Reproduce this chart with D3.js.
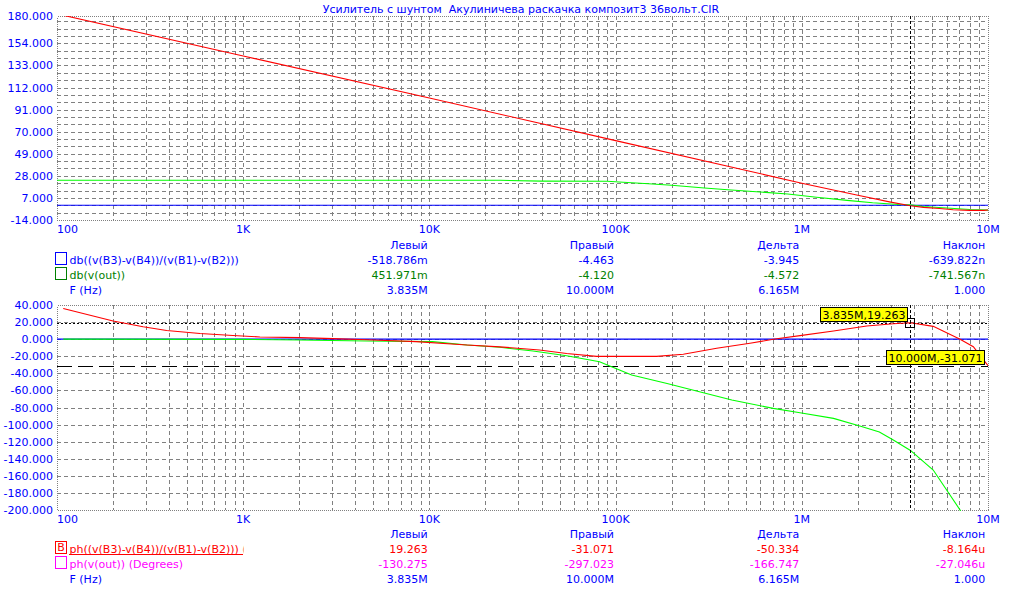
<!DOCTYPE html>
<html><head><meta charset="utf-8">
<script src="https://cdn.jsdelivr.net/npm/d3@7"></script>
<style>
html,body{margin:0;padding:0;background:#fff;}
svg{display:block;font-family:"DejaVu Sans",sans-serif;font-size:11px;}
text{white-space:pre;}
</style></head>
<body>
<svg id="c" width="1020" height="592"></svg>
<script>
// ---------- data ----------
const title = "Усилитель с шунтом  Акулиничева раскачка композит3 36вольт.CIR";
const xTickValues = [1e2, 1e3, 1e4, 1e5, 1e6, 1e7];
const xTickLabels = ["100", "1K", "10K", "100K", "1M", "10M"];
const topTickValues = [-14, 7, 28, 49, 70, 91, 112, 133, 154, 180];
const botTickValues = [40, 20, 0, -20, -40, -60, -80, -100, -120, -140, -160, -180, -200];

// top plot: magnitude (dB)
const magRedF = [100, 1e3, 1e4, 1e5, 1e6, 2e6, 3e6, 3.835e6, 4.5e6, 5.5e6, 6.5e6, 8e6, 9.5e6, 1e7];
const magRedV = [182, 142, 102, 61.5, 21, 9.5, 3, -0.52, -2, -3, -4.2, -4.8, -4.8, -4.46];
const magGreenF = [100, 2.4e4, 4e4, 9e4, 1.1e5, 1.5e5, 2e5, 3e5, 4e5, 5.7e5, 8.4e5, 1.2e6, 1.75e6, 2.4e6, 3.3e6, 3.835e6, 4.5e6, 6e6, 8e6, 1e7];
const magGreenV = [23.75, 23.75, 23, 22.8, 21.9, 20.5, 19, 16.4, 14.8, 12.9, 10.7, 7.6, 4.7, 2.4, 0.8, 0.45, -1.2, -2.6, -4, -4.6];
const magBlueF = [100, 1e7];
const magBlueV = [0, 0];

// bottom plot: phase (degrees)
const phRedF = [108, 200, 290, 388, 586, 881, 1230, 2020, 3030, 4600, 8500, 15900, 23900, 39000, 54600, 79000, 166000, 231000, 349000, 527000, 703000, 978000, 1.48e6, 2.23e6, 3.1e6, 3.835e6, 5.08e6, 7.08e6, 8.34e6, 1e7];
const phRedV = [36, 21.3, 14.6, 10.2, 6.6, 4.3, 2.6, 1.8, 0.6, -0.6, -2.9, -6.8, -9.0, -12.7, -16.7, -20.1, -20.1, -17.7, -10.7, -4.8, -0.1, 4.1, 9.6, 15.4, 18.1, 19.263, 15.0, -0.1, -8.9, -31.071];
const phGreenF = [108, 1e3, 2e3, 3e3, 4600, 10400, 15900, 23900, 36000, 54600, 82000, 93000, 122000, 189000, 282000, 421000, 703000, 978000, 1.48e6, 2.05e6, 2.61e6, 3.1e6, 3.835e6, 5.08e6, 7.08e6, 1e7];
const phGreenV = [0, -0.3, -1, -1.5, -2.1, -2.9, -6.8, -9.5, -13.9, -19.4, -26.4, -31.4, -42, -51.9, -61.5, -71.2, -81, -86.1, -92.7, -101.7, -108.7, -118.1, -130.275, -153.2, -200, -297.023];
const phBlueF = [100, 1e7];
const phBlueV = [0, 0];

// cursors
const cursorF = [3.835e6, 1e7];
const phCursorV = [19.263, -31.071];
const cursorLabels = ["3.835M,19.263", "10.000M,-31.071"];

// tables
const tableHeaders = ["Левый", "Правый", "Дельта", "Наклон"];
const topRowNames = ["db((v(B3)-v(B4))/(v(B1)-v(B2)))", "db(v(out))", "F (Hz)"];
const topRowValues = [
  ["-518.786m", "-4.463", "-3.945", "-639.822n"],
  ["451.971m", "-4.120", "-4.572", "-741.567n"],
  ["3.835M", "10.000M", "6.165M", "1.000"]
];
const botRowNames = ["ph((v(B3)-v(B4))/(v(B1)-v(B2))) (Degrees)", "ph(v(out)) (Degrees)", "F (Hz)"];
const botRowValues = [
  ["19.263", "-31.071", "-50.334", "-8.164u"],
  ["-130.275", "-297.023", "-166.747", "-27.046u"],
  ["3.835M", "10.000M", "6.165M", "1.000"]
];

// ---------- drawing ----------
const svg = d3.select("#c");
const BLUE = "#0000ff", RED = "#ff0000", GREEN = "#00ff00", DKGREEN = "#008000", MAG = "#ff00ff", GRID = "#808080";
const X0 = 57, X1 = 988;
const x = d3.scaleLog().domain([100, 1e7]).range([X0, X1]);
const yTop = d3.scaleLinear().domain([-14, 180]).range([220, 16]);
const yBot = d3.scaleLinear().domain([-200, 40]).range([510, 305]);

svg.append("text").attr("x", 521).attr("y", 12.5).attr("text-anchor", "middle")
  .attr("fill", BLUE).text(title);

const defs = svg.append("defs");
function clip(id, y) {
  const r = y.range();
  defs.append("clipPath").attr("id", id).append("rect")
    .attr("x", X0).attr("y", r[1]).attr("width", X1 - X0 + 1).attr("height", r[0] - r[1] + 1);
}
clip("clipTop", yTop); clip("clipBot", yBot);
defs.append("clipPath").attr("id", "clipName").append("rect")
  .attr("x", 60).attr("y", 530).attr("width", 183.5).attr("height", 40);

// minor x grid values: k*10^n
const xGrid = [];
for (let e = 2; e < 7; e++) for (let k = 1; k < 10; k++) xGrid.push(k * Math.pow(10, e));

function panel(y, hGrid, yTicks, labelBaseline) {
  const g = svg.append("g");
  const r = y.range();
  g.selectAll(".vg").data(xGrid.filter(v => v > 100)).enter().append("line")
    .attr("x1", d => Math.round(x(d)) + 0.5).attr("x2", d => Math.round(x(d)) + 0.5)
    .attr("y1", r[1]).attr("y2", r[0])
    .attr("stroke", GRID).attr("stroke-dasharray", "4,3").attr("shape-rendering", "crispEdges");
  g.selectAll(".hg").data(hGrid).enter().append("line")
    .attr("x1", X0).attr("x2", X1)
    .attr("y1", d => Math.round(y(d)) + 0.5).attr("y2", d => Math.round(y(d)) + 0.5)
    .attr("stroke", GRID).attr("stroke-dasharray", "4,3").attr("shape-rendering", "crispEdges");
  g.append("rect").attr("x", X0 + 0.5).attr("y", r[1] + 0.5).attr("width", X1 - X0).attr("height", r[0] - r[1])
    .attr("fill", "none").attr("stroke", GRID).attr("stroke-dasharray", "1,1").attr("shape-rendering", "crispEdges");
  g.selectAll(".yl").data(yTicks).enter().append("text")
    .attr("x", 53).attr("y", d => y(d) + 4).attr("text-anchor", "end").attr("fill", BLUE)
    .text(d => d.toFixed(3));
  g.selectAll(".xl").data(xTickValues).enter().append("text")
    .attr("x", (d, i) => i === 0 ? X0 : x(d))
    .attr("y", labelBaseline)
    .attr("text-anchor", (d, i) => i === 0 ? "start" : "middle")
    .attr("fill", BLUE).text((d, i) => xTickLabels[i]);
  return g;
}

function series(g, F, V, y, color, clipId) {
  const line = d3.line().x(d => x(d[0])).y(d => y(d[1]));
  g.append("path").datum(F.map((f, i) => [f, V[i]])).attr("d", line)
    .attr("fill", "none").attr("stroke", color).attr("stroke-width", 1.1)
    .attr("clip-path", `url(#${clipId})`);
}

// top panel
const topGrid = d3.range(-7, 180, 7);
const gt = panel(yTop, topGrid, topTickValues, 233);
series(gt, magBlueF, magBlueV, yTop, BLUE, "clipTop");
series(gt, magGreenF, magGreenV, yTop, GREEN, "clipTop");
series(gt, magRedF, magRedV, yTop, RED, "clipTop");
gt.append("line").attr("x1", Math.round(x(cursorF[0])) + 0.5).attr("x2", Math.round(x(cursorF[0])) + 0.5)
  .attr("y1", 16).attr("y2", 220).attr("stroke", "#000").attr("stroke-dasharray", "3,2").attr("shape-rendering", "crispEdges");

// bottom panel
const botGrid = d3.range(-180, 40, 20);
const gb = panel(yBot, botGrid, botTickValues, 523);
gb.append("line").attr("x1", X0).attr("x2", X1)
  .attr("y1", Math.round(yBot(phCursorV[0])) + 0.5).attr("y2", Math.round(yBot(phCursorV[0])) + 0.5)
  .attr("stroke", "#000").attr("stroke-dasharray", "2,2").attr("shape-rendering", "crispEdges");
gb.append("line").attr("x1", X0).attr("x2", X1)
  .attr("y1", Math.round(yBot(phCursorV[1])) + 0.5).attr("y2", Math.round(yBot(phCursorV[1])) + 0.5)
  .attr("stroke", "#000").attr("stroke-dasharray", "15,6").attr("shape-rendering", "crispEdges");
series(gb, phBlueF, phBlueV, yBot, BLUE, "clipBot");
series(gb, phGreenF, phGreenV, yBot, GREEN, "clipBot");
series(gb, phRedF, phRedV, yBot, RED, "clipBot");
gb.append("line").attr("x1", Math.round(x(cursorF[0])) + 0.5).attr("x2", Math.round(x(cursorF[0])) + 0.5)
  .attr("y1", 305).attr("y2", 510).attr("stroke", "#000").attr("stroke-dasharray", "3,2").attr("shape-rendering", "crispEdges");
gb.append("rect").attr("x", Math.round(x(cursorF[0])) - 4.5).attr("y", Math.round(yBot(phCursorV[0])) - 4.5)
  .attr("width", 9).attr("height", 9).attr("fill", "none").attr("stroke", "#000").attr("shape-rendering", "crispEdges");
cursorLabels.forEach((t, i) => {
  const cx = x(cursorF[i]), cy = yBot(phCursorV[i]);
  const tg = gb.append("g");
  const txt = tg.append("text").attr("fill", "#000").text(t);
  const w = txt.node().getComputedTextLength();
  const rx = Math.round(cx - 3 - w - 5), ry = Math.round(cy - 16);
  tg.insert("rect", "text").attr("x", rx + 0.5).attr("y", ry + 0.5).attr("width", Math.round(w) + 4).attr("height", 14)
    .attr("fill", "#ffff00").attr("stroke", "#000").attr("shape-rendering", "crispEdges");
  txt.attr("x", rx + 2.5).attr("y", ry + 12);
});

// tables
const colRight = [427.7, 614, 799.3, 985.3];
function table(y0, names, values, colors, boxes) {
  const g = svg.append("g");
  g.selectAll(".h").data(tableHeaders).enter().append("text")
    .attr("x", (d, i) => colRight[i]).attr("y", y0).attr("text-anchor", "end")
    .attr("fill", BLUE).text(d => d);
  names.forEach((n, r) => {
    const yy = y0 + 15 * (r + 1);
    const t = g.append("text").attr("x", 69.5).attr("y", yy).attr("fill", colors[r]).text(n);
    if (boxes[r] && boxes[r].clip) t.attr("clip-path", "url(#clipName)");
    if (boxes[r] && boxes[r].underline) {
      g.append("line").attr("x1", 69).attr("x2", 243).attr("y1", yy + 1.5).attr("y2", yy + 1.5)
        .attr("stroke", colors[r]).attr("shape-rendering", "crispEdges");
    }
    if (boxes[r]) {
      g.append("rect").attr("x", 55.5).attr("y", yy - 11.5).attr("width", 11).attr("height", 12)
        .attr("fill", "none").attr("stroke", colors[r]).attr("shape-rendering", "crispEdges");
      if (boxes[r].letter) g.append("text").attr("x", 61).attr("y", yy - 1.5).attr("text-anchor", "middle")
        .attr("fill", colors[r]).text(boxes[r].letter);
    }
    g.selectAll(".v" + r).data(values[r]).enter().append("text")
      .attr("x", (d, i) => colRight[i]).attr("y", yy).attr("text-anchor", "end")
      .attr("fill", colors[r]).text(d => d);
  });
}
table(248.5, topRowNames, topRowValues, [BLUE, DKGREEN, BLUE], [{}, {}, null]);
table(537.5, botRowNames, botRowValues, [RED, MAG, BLUE], [{letter: "B", clip: true, underline: true}, {}, null]);
</script>
</body></html>
